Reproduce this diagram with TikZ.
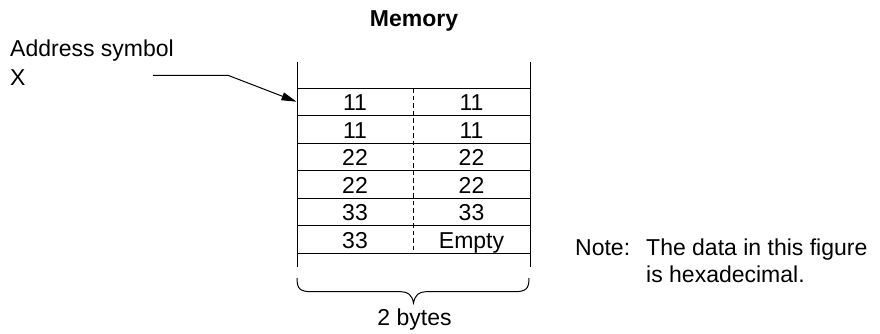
\documentclass[tikz,border=0pt]{standalone}
\usepackage{fontspec}
\setmainfont{Liberation Sans}
\usetikzlibrary{arrows.meta}
\begin{document}
\begin{tikzpicture}[x=1pt,y=-1pt,
  every node/.style={inner sep=0pt,font=\fontsize{23}{27}\selectfont},
  txt/.style={anchor=base},
  txtw/.style={anchor=base west},
  frame/.style={line width=1pt,draw=black},
  divider/.style={line width=0.9pt,dash pattern=on 4.5pt off 3pt},
  pointer/.style={line width=1pt,-{Triangle[length=15pt,width=8pt]}},
  bracepath/.style={line width=1pt}]
\useasboundingbox (0,0) rectangle (880,333);
% title
\node[txt,font=\fontsize{23}{27}\selectfont\bfseries] (title) at (414,26.7) {Memory};
% address label
\node[txtw] (addr) at (10,56.7) {Address symbol};
\node[txtw] (xsym) at (10,85) {X};
% memory frame
\coordinate (tl) at (297,61.7);
\coordinate (bl) at (297,266.7);
\coordinate (tr) at (530,61.7);
\coordinate (br) at (530,266.7);
\draw[frame] (tl) -- (bl);
\draw[frame] (tr) -- (br);
\foreach \k in {0,...,6} {
  \draw[frame] (297,{88.3+27.5*\k}) -- (530,{88.3+27.5*\k});
}
\coordinate (dtop) at (413.5,88.3);
\coordinate (dbot) at (413.5,253.3);
\draw[divider] (dtop) -- (dbot);
% cells
\foreach \k/\a/\b in {0/11/11,1/11/11,2/22/22,3/22/22,4/33/33,5/33/Empty} {
  \node[txt] (a\k) at (355,{88.3+27.5*\k+22.6}) {\a};
  \node[txt] (b\k) at (471.5,{88.3+27.5*\k+22.6}) {\b};
}
% pointer
\coordinate (pstart) at (153,75.3);
\coordinate (pbend) at (228,75.3);
\coordinate (ptip) at (296.5,101.7);
\draw[pointer] (pstart) -- (pbend) -- (ptip);
% brace
\coordinate (brl) at (297,278);
\coordinate (brr) at (529,278);
\coordinate (brtip) at (413.5,303);
\draw[bracepath] (brl) .. controls (297,289) and (300,291.7) .. (312,291.7)
  -- (401,291.7) .. controls (408,291.7) and (412,295) .. (brtip)
  .. controls (415,295) and (419,291.7) .. (426,291.7)
  -- (514,291.7) .. controls (526,291.7) and (529,289) .. (brr);
\node[txt] (bytes) at (414.5,325) {2 bytes};
% note
\node[txtw] (note) at (575,255) {Note:};
\node[txtw] (note1) at (646,255) {The data in this figure};
\node[txtw] (note2) at (646,282) {is hexadecimal.};
\end{tikzpicture}
\end{document}
